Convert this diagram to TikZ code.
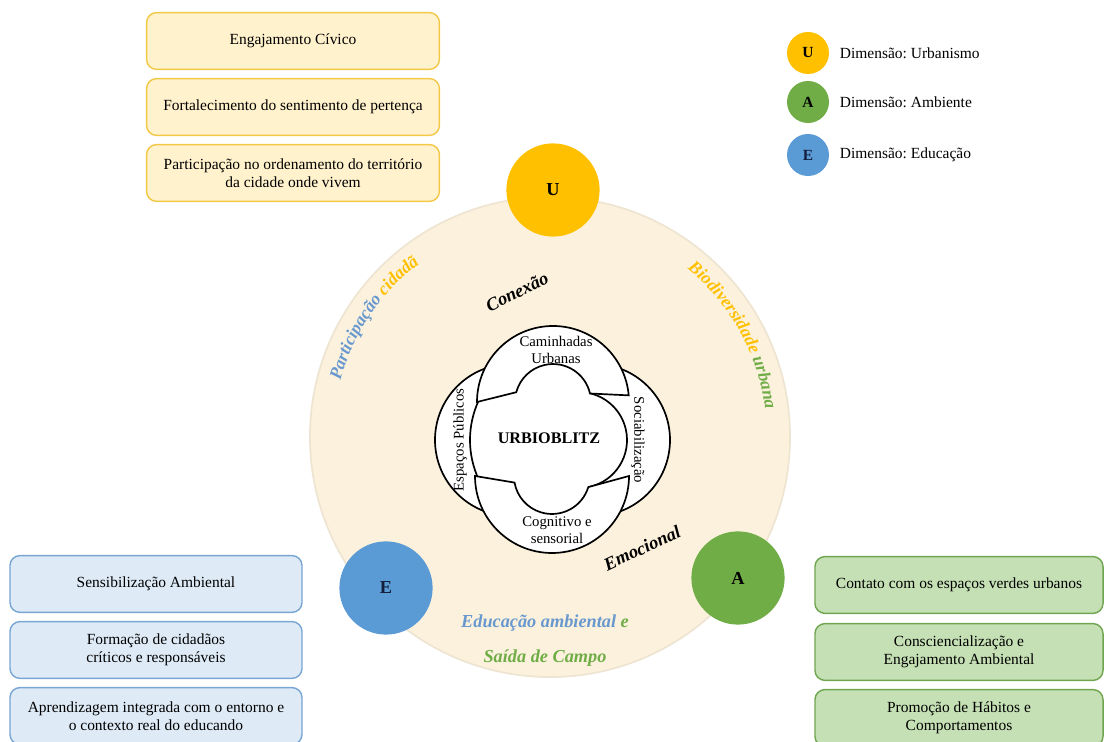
\documentclass[tikz,border=0pt]{standalone}
\usepackage{fontspec}
\setmainfont{Liberation Serif}
\usetikzlibrary{decorations.text}
\frenchspacing

\definecolor{urbcor}{RGB}{255,192,0}
\definecolor{ambcor}{RGB}{112,173,71}
\definecolor{educor}{RGB}{91,155,213}
\definecolor{edutxt}{RGB}{104,152,206}
\definecolor{fundo}{RGB}{251,241,220}
\definecolor{fundoborda}{RGB}{238,228,210}
\definecolor{ufill}{RGB}{255,242,204}
\definecolor{uborda}{RGB}{242,200,70}
\definecolor{efill}{RGB}{222,235,247}
\definecolor{eborda}{RGB}{120,165,210}
\definecolor{afill}{RGB}{197,224,180}
\definecolor{aborda}{RGB}{112,165,80}
\definecolor{eletra}{RGB}{20,30,60}

\newcommand{\arcfont}{\fontsize{12.5}{14}\selectfont\bfseries\itshape}

\tikzset{
	caixa/.style={draw, rounded corners=0.25cm, line width=1pt, align=center,
		minimum height=1.42cm, font=\fontsize{11}{12.5}\selectfont},
	ucaixa/.style={caixa, draw=uborda, fill=ufill, minimum width=7.32cm},
	ecaixa/.style={caixa, draw=eborda, fill=efill, minimum width=7.3cm},
	acaixa/.style={caixa, draw=aborda, fill=afill, minimum width=7.2cm},
	dim/.style={circle, inner sep=0pt, minimum size=2.33cm, font=\fontsize{13}{15}\selectfont\bfseries},
	leg/.style={circle, inner sep=0pt, minimum size=1.05cm, font=\fontsize{11}{12}\selectfont\bfseries},
	legtexto/.style={anchor=west, font=\fontsize{11}{12}\selectfont},
	bloco/.style={font=\fontsize{10.5}{12}\selectfont, align=center},
	rotulo/.style={font=\fontsize{13}{15}\selectfont\bfseries\itshape},
	traco/.style={line width=1.2pt}
}

\begin{document}
\begin{tikzpicture}[x=0.025cm, y=0.025cm]
				\useasboundingbox (0,0) rectangle (1105,742);
				\node[circle, fill=fundo, draw=fundoborda, line width=1.2pt, minimum size=12cm] (roda) at (550,305) {};

				\node[dim, fill=urbcor] (u) at (553,552) {U};
				\node[dim, fill=ambcor] (a) at (738,164) {A};
				\node[dim, fill=educor, text=eletra] (e) at (386,154) {E};

				\begin{scope}[traco]
					\fill[white] (553,302) circle (85);
					\fill[white] (511,378) arc (90:270:76) -- (478.8,262.3) arc (205:155:94) -- cycle;
					\draw (511,378) arc (90:270:76);
					\draw (478.8,262.3) arc (205:155:94);
					\fill[white] (594,378) arc (90:-90:76) -- (589.8,255.2) arc (-77:76:48) -- cycle;
					\draw (594,378) arc (90:-90:76);
					\draw (589.8,255.2) arc (-77:76:48);
					\filldraw[fill=white] (477,340) arc (180:5:76) -- (590,348.5) arc (13:165:38) -- cycle;
					\filldraw[fill=white] (475,266) arc (180:360:77) -- (588.3,254.9) arc (-17:-170:38) -- cycle;
				\end{scope}

				\node[bloco] (cam) at (556,392) {Caminhadas\\Urbanas};
				\node[bloco] (cog) at (557,212) {Cognitivo e\\sensorial};
				\node[bloco, rotate=90] (esp) at (460,302) {Espaços Públicos};
				\node[bloco, rotate=-90] (soc) at (638,302) {Sociabilização};
				\node[font=\fontsize{11.5}{13}\selectfont\bfseries] (urb) at (549,304) {URBIOBLITZ};

				\path[decorate, decoration={text along path, text align=center,
					text={|\arcfont\color{edutxt}|Participação |\arcfont\color{urbcor}|cidadã}}]
					(550,305) ++(176:217) arc (176:116:217);
				\path[decorate, decoration={text along path, text align=center,
					text={|\arcfont\color{urbcor}|Biodiversidade |\arcfont\color{ambcor}|urbana}}]
					(550,305) ++(62:217) arc (62:-4:217);

				\node[rotulo, rotate=26] (con) at (517,450) {Conexão};
				\node[rotulo, rotate=25] (emo) at (642,194) {Emocional};
				\node[rotulo, text=edutxt] (edu) at (545,119) {Educação ambiental \textcolor{ambcor}{e}};
				\node[rotulo, text=ambcor] (sai) at (545,84) {Saída de Campo};

				\node[ucaixa] (u1) at (293,701) {Engajamento Cívico};
				\node[ucaixa] (u2) at (293,635) {Fortalecimento do sentimento de pertença};
				\node[ucaixa] (u3) at (293,569) {Participação no ordenamento do território\\da cidade onde vivem};

				\node[ecaixa] (e1) at (156,158) {Sensibilização Ambiental};
				\node[ecaixa] (e2) at (156,92) {Formação de cidadãos\\críticos e responsáveis};
				\node[ecaixa] (e3) at (156,26) {Aprendizagem integrada com o entorno e\\o contexto real do educando};

				\node[acaixa] (a1) at (959,157) {Contato com os espaços verdes urbanos};
				\node[acaixa] (a2) at (959,90) {Consciencialização e\\Engajamento Ambiental};
				\node[acaixa] (a3) at (959,24) {Promoção de Hábitos e\\Comportamentos};

				\node[leg, fill=urbcor] (lu) at (808,689) {U};
				\node[leg, fill=ambcor] (la) at (808,640) {A};
				\node[leg, fill=educor, text=eletra] (le) at (808,587) {E};
				\node[legtexto] (lut) at (835,689) {Dimensão: Urbanismo};
				\node[legtexto] (lat) at (835,640) {Dimensão: Ambiente};
				\node[legtexto] (let) at (835,587) {Dimensão: Educação};
			\end{tikzpicture}
\end{document}
